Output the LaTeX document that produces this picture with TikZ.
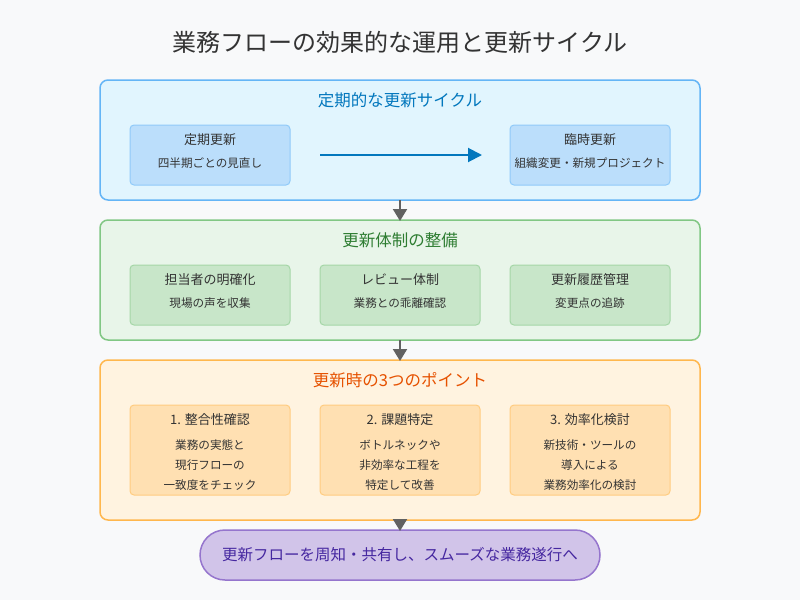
\documentclass[tikz,border=0pt]{standalone}
\usepackage{fontspec}
\setmainfont{Noto Sans CJK JP}
\usetikzlibrary{arrows.meta}
\definecolor{bg}{HTML}{F8F9FA}
\definecolor{bfill}{HTML}{E1F5FE}\definecolor{bline}{HTML}{64B5F6}\definecolor{bsub}{HTML}{BBDEFB}\definecolor{bsubl}{HTML}{90CAF9}\definecolor{btxt}{HTML}{0277BD}
\definecolor{gfill}{HTML}{E8F5E9}\definecolor{gline}{HTML}{81C784}\definecolor{gsub}{HTML}{C8E6C9}\definecolor{gsubl}{HTML}{A5D6A7}\definecolor{gtxt}{HTML}{2E7D32}
\definecolor{ofill}{HTML}{FFF3E0}\definecolor{oline}{HTML}{FFB74D}\definecolor{osub}{HTML}{FFE0B2}\definecolor{osubl}{HTML}{FFCC80}\definecolor{otxt}{HTML}{E65100}
\definecolor{pfill}{HTML}{D1C4E9}\definecolor{pline}{HTML}{9575CD}\definecolor{ptxt}{HTML}{4527A0}
\definecolor{dark}{HTML}{333333}\definecolor{arr}{HTML}{616161}
\tikzset{
 panel/.style={draw=#1, line width=1.5pt, rounded corners=8pt},
 sub/.style={rounded corners=4pt, line width=1pt},
 hd/.style={font=\fontsize{13}{15}\selectfont, text=dark},
 ln/.style={font=\fontsize{11.6}{13}\selectfont, text=dark},
 ptitle/.style={font=\fontsize{16.5}{19}\selectfont},
 down/.style={-{Triangle[length=12pt,width=14pt]}, draw=arr, fill=arr, line width=2pt},
}
\begin{document}
\begin{tikzpicture}[x=1pt,y=-1pt]
\fill[bg] (0,0) rectangle (800,600);
\useasboundingbox (0,0) rectangle (800,600);
\node[font=\fontsize{24}{28}\selectfont, text=dark] (title) at (400,42) {業務フローの効果的な運用と更新サイクル};
% panel 1
\draw[panel=bline, fill=bfill] (100,80) rectangle (700,200);
\node[ptitle, text=btxt] (t1) at (400,100) {定期的な更新サイクル};
\draw[sub, fill=bsub, draw=bsubl] (130,125) rectangle (290,185);
\draw[sub, fill=bsub, draw=bsubl] (510,125) rectangle (670,185);
\node[hd] (a1) at (210,140) {定期更新};
\node[ln] (a2) at (210,163) {四半期ごとの見直し};
\node[hd] (b1) at (590,140) {臨時更新};
\node[ln] (b2) at (590,163) {組織変更・新規プロジェクト};
\coordinate (s1) at (320,155); \coordinate (e1) at (482,155);
\draw[-{Triangle[length=14pt,width=14pt]}, draw=btxt, fill=btxt, line width=2pt] (s1) -- (e1);
% panel 2
\draw[panel=gline, fill=gfill] (100,220) rectangle (700,340);
\node[ptitle, text=gtxt] (t2) at (400,240) {更新体制の整備};
\foreach \x/\h/\l [count=\i] in {210/担当者の明確化/現場の声を収集, 400/レビュー体制/業務との乖離確認, 590/更新履歴管理/変更点の追跡}{
 \draw[sub, fill=gsub, draw=gsubl] (\x-80,265) rectangle (\x+80,325);
 \node[hd] (g\i) at (\x,280) {\h};
 \node[ln] (gl\i) at (\x,303) {\l};
}
% panel 3
\draw[panel=oline, fill=ofill] (100,360) rectangle (700,520);
\node[ptitle, text=otxt] (t3) at (400,380) {更新時の3つのポイント};
\foreach \x/\h/\la/\lb/\lc [count=\i] in {210/1. 整合性確認/業務の実態と/現行フローの/一致度をチェック, 400/2. 課題特定/ボトルネックや/非効率な工程を/特定して改善, 590/3. 効率化検討/新技術・ツールの/導入による/業務効率化の検討}{
 \draw[sub, fill=osub, draw=osubl] (\x-80,405) rectangle (\x+80,495);
 \node[hd] (o\i) at (\x,420) {\h};
 \node[ln] (oa\i) at (\x,445) {\la};
 \node[ln] (ob\i) at (\x,465) {\lb};
 \node[ln] (oc\i) at (\x,485) {\lc};
}
% final
\draw[fill=pfill, draw=pline, line width=1.5pt, rounded corners=25pt] (200,530) rectangle (600,580);
\node[font=\fontsize{15.5}{17}\selectfont, text=ptxt] (fin) at (400,555) {更新フローを周知・共有し、スムーズな業務遂行へ};
% arrows
\coordinate (d1a) at (400,200); \coordinate (d1b) at (400,221);
\coordinate (d2a) at (400,340); \coordinate (d2b) at (400,361);
\coordinate (d3a) at (400,520); \coordinate (d3b) at (400,531);
\draw[down] (d1a) -- (d1b);
\draw[down] (d2a) -- (d2b);
\draw[down] (d3a) -- (d3b);
\end{tikzpicture}
\end{document}
